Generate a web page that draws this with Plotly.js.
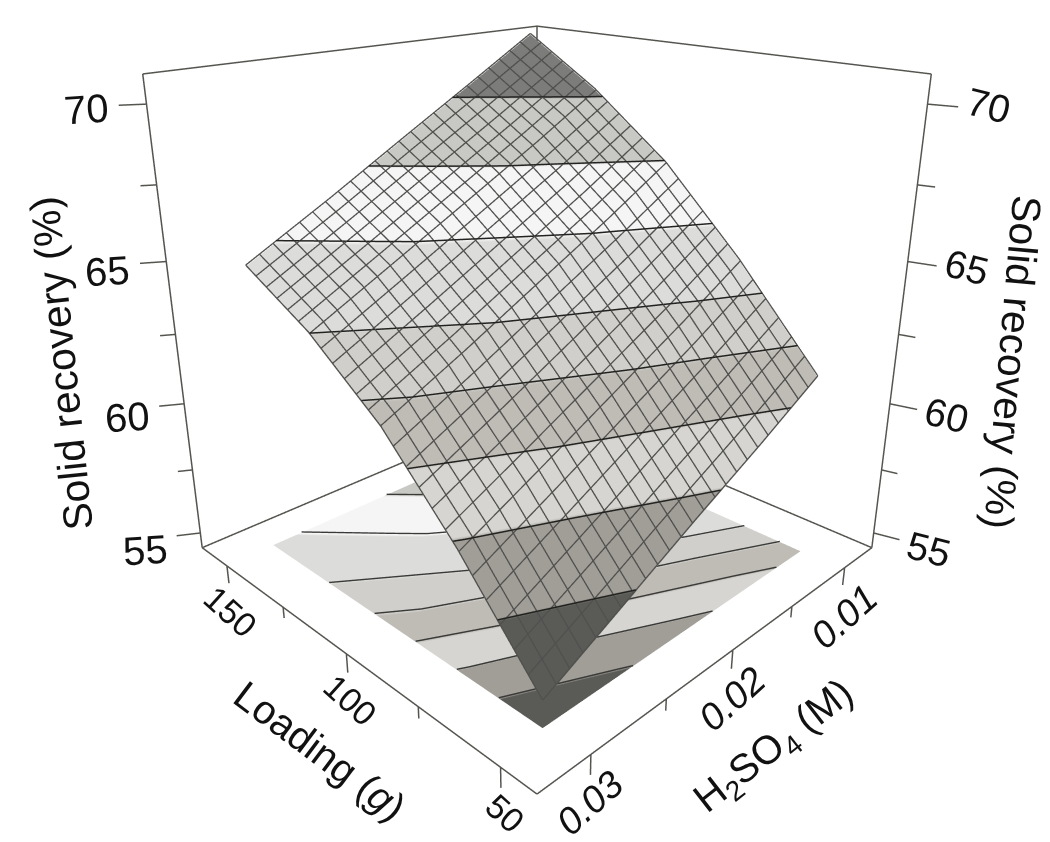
<!DOCTYPE html>
<html><head><meta charset="utf-8">
<script src="https://cdn.plot.ly/plotly-3.0.1.min.js"></script>
<style>html,body{margin:0;padding:0;background:#fff;overflow:hidden;width:1050px;height:842px}#c{position:absolute;left:0;top:-138px;width:1074px;height:1000px}</style></head>
<body><div id="c"></div>
<script>
// Data
const loading = [52, 77, 101, 126, 150];
const acid = [0.0103, 0.015, 0.02, 0.025, 0.0303];
const recovery = [
  [61.08, 64.35, 67.10, 69.25, 70.89],
  [59.69, 62.94, 65.67, 67.81, 69.43],
  [58.30, 61.53, 64.25, 66.36, 67.90],
  [56.85, 60.12, 62.82, 64.92, 66.35],
  [55.32, 58.65, 61.38, 63.40, 64.78]
];
const levels = [57.05, 58.80, 60.40, 61.90, 63.36, 65.33, 67.15, 69.00];
const bandColors = ['#5a5a56','#a09e97','#d6d5d1','#bfbcb6','#d0cfcb','#dcdcda','#f5f5f5','#c8c8c4','#7c7c7a'];
const loadingTicks = [50, 75, 100, 125, 150];
const loadingLabels = [50, 100, 150];
const acidTicks = [0.01, 0.015, 0.02, 0.025, 0.03];
const acidLabels = [0.01, 0.02, 0.03];
const recoveryTicks = [55, 57.5, 60, 62.5, 65, 67.5, 70];
const recoveryLabels = [55, 60, 65, 70];
const meshCells = 24;

const boxX = [40, 162], boxY = [0.0072, 0.0332], boxZ = [54.4, 70.9];
const rangeX = [33, 169], rangeY = [0.0042, 0.0362], rangeZ = [53.6, 71.2];
const cmin = 53, cmax = 72;
const lift = 0.05;

function steppedScale(shift) {
  const scale = [];
  const edges = [cmin, ...levels.map(l => l + shift), cmax];
  bandColors.forEach((c, i) => {
    scale.push([(edges[i]-cmin)/(cmax-cmin), c]);
    scale.push([(edges[i+1]-cmin)/(cmax-cmin), c]);
  });
  return scale;
}

function contourSegments(xs, ys, zz, lvls) {
  const X = [], Y = [], Z = [];
  for (const L of lvls) for (let j = 0; j < ys.length-1; j++) for (let i = 0; i < xs.length-1; i++) {
    const pts = [];
    const c = [[i,j],[i+1,j],[i+1,j+1],[i,j+1]];
    for (let k = 0; k < 4; k++) {
      const a = c[k], b = c[(k+1)%4];
      const za = zz[a[1]][a[0]], zb = zz[b[1]][b[0]];
      if ((za-L)*(zb-L) < 0) {
        const t = (L-za)/(zb-za);
        pts.push([xs[a[0]]+t*(xs[b[0]]-xs[a[0]]), ys[a[1]]+t*(ys[b[1]]-ys[a[1]])]);
      }
    }
    if (pts.length >= 2) { X.push(pts[0][0], pts[1][0], null); Y.push(pts[0][1], pts[1][1], null); Z.push(L, L, null); }
  }
  return {X, Y, Z};
}
const seg = contourSegments(loading, acid, recovery, levels);

function interp1(arr, v) {
  let i = 0; while (i < arr.length-2 && v > arr[i+1]) i++;
  return [i, (v-arr[i])/(arr[i+1]-arr[i])];
}
function surfAt(x, y) {
  const [i, u] = interp1(loading, x), [j, w] = interp1(acid, y);
  const r = recovery;
  return (1-w)*((1-u)*r[j][i]+u*r[j][i+1]) + w*((1-u)*r[j+1][i]+u*r[j+1][i+1]);
}
const mx=[],my=[],mz=[];
for (let k = 0; k <= meshCells; k++) {
  const xv = loading[0]+(loading[loading.length-1]-loading[0])*k/meshCells;
  acid.forEach(a => { mx.push(xv); my.push(a); mz.push(surfAt(xv,a)+lift); });
  mx.push(null);my.push(null);mz.push(null);
  const yv = acid[0]+(acid[acid.length-1]-acid[0])*k/meshCells;
  loading.forEach(l => { mx.push(l); my.push(yv); mz.push(surfAt(l,yv)+lift); });
  mx.push(null);my.push(null);mz.push(null);
}

const [x0,x1] = boxX, [y0,y1] = boxY, [z0,z1] = boxZ;
const frame = [
  [[x1,y1,z0],[x0,y1,z0]], [[x0,y1,z0],[x0,y0,z0]], [[x0,y0,z0],[x1,y0,z0]], [[x1,y0,z0],[x1,y1,z0]],
  [[x1,y1,z1],[x1,y0,z1]], [[x1,y0,z1],[x0,y0,z1]],
  [[x1,y1,z0],[x1,y1,z1]], [[x0,y0,z0],[x0,y0,z1]], [[x1,y0,z0],[x1,y0,z1]]
];
const tLenZ = 0.7, tMinor = 0.42;
loadingTicks.forEach(v => frame.push([[v,y1,z0],[v,y1,z0-(loadingLabels.includes(v)?tLenZ:tMinor)]]));
acidTicks.forEach(v => frame.push([[x0,v,z0],[x0,v,z0-(acidLabels.includes(v)?tLenZ:tMinor)]]));
recoveryTicks.forEach(v => {
  const m = recoveryLabels.includes(v) ? 1 : 0.6;
  frame.push([[x1,y1,v],[x1+3.06*m,y1+0.00106*m,v]]);
  frame.push([[x0,y0,v],[x0-6.3*m,y0-0.00037*m,v]]);
});
const fx=[],fy=[],fz=[];
frame.forEach(s => { s.forEach(p => {fx.push(p[0]);fy.push(p[1]);fz.push(p[2]);}); fx.push(null);fy.push(null);fz.push(null); });

const flat = {ambient:1,diffuse:0,specular:0,roughness:1,fresnel:0};
const off = {x:{highlight:false},y:{highlight:false},z:{highlight:false}};
const traces = [
  {type:'scatter3d',mode:'lines',x:fx,y:fy,z:fz,line:{color:'#555550',width:3},hoverinfo:'skip',showlegend:false},
  {type:'surface',x:loading,y:acid,z:recovery.map(r=>r.map(()=>boxZ[0]+0.01)),surfacecolor:recovery,
   cmin,cmax,colorscale:steppedScale(0),showscale:false,lighting:flat,hoverinfo:'skip',contours:off},
  {type:'scatter3d',mode:'lines',x:seg.X,y:seg.Y,z:seg.X.map(v=>v===null?null:boxZ[0]+0.03),line:{color:'#3a3a38',width:3},hoverinfo:'skip',showlegend:false},
  {type:'surface',x:loading,y:acid,z:recovery,cmin,cmax,colorscale:steppedScale(0.07),showscale:false,lighting:flat,hoverinfo:'skip',contours:off},
  {type:'scatter3d',mode:'lines',x:mx,y:my,z:mz,line:{color:'#50504e',width:2.6},hoverinfo:'skip',showlegend:false},
  {type:'scatter3d',mode:'lines',x:seg.X,y:seg.Y,z:seg.Z.map(v=>v===null?null:v+lift+0.01),line:{color:'#222220',width:3},hoverinfo:'skip',showlegend:false}
];

const F = 'Liberation Sans, Arial, sans-serif';
const ann = [];
const put = (x,y,z,text,xs,ys,ang,size,style) => ann.push({x,y,z,text,showarrow:false,xshift:xs,yshift:ys,textangle:ang,
  font:{family:F,size,color:'#111',style:style||'normal'},xanchor:'center',yanchor:'middle'});
loadingLabels.forEach(v => put(v,y1,z0,String(v),4,-46,42,34));
acidLabels.forEach(v => put(x0,v,z0,String(v),-1,-49,-42,38,'italic'));
recoveryLabels.forEach(v => {
  put(x1,y1,v,String(v),-55-(v-55)*0.33,-17+(v-55)*0.8,-4,40);
  put(x0,y0,v,String(v),55+(v-55)*0.4,-17+(v-55)*1.07,14,39);
});
put(100,y1,z0,'Loading (<i>g</i>)',-26,-97,37,40);
put(x0,0.02,z0,'H<sub>2</sub>SO<sub>4</sub> (M)',42,-97,-38,40);
put(x1,y1,63,'Solid recovery (%)',-112,-43,-96,41);
put(x0,y0,63,'Solid recovery (%)',112,-42,95,41);

const layout = {
  width:1074,height:1000,margin:{l:0,r:0,t:0,b:0},paper_bgcolor:'#fff',showlegend:false,
  scene:{
    domain:{x:[0,1],y:[0.04,1]},bgcolor:'rgba(0,0,0,0)',
    xaxis:{visible:false,range:rangeX},yaxis:{visible:false,range:rangeY},zaxis:{visible:false,range:rangeZ},
    aspectmode:'manual',aspectratio:{x:1.1148,y:1.2308,z:1.0525},
    camera:{center:{x:0,y:0,z:-0.01},eye:{x:-1.49,y:1.49,z:0.84},up:{x:0,y:0,z:1},projection:{type:'perspective'}},
    annotations:ann
  }
};
Plotly.newPlot('c',traces,layout,{displayModeBar:false});
</script></body></html>
